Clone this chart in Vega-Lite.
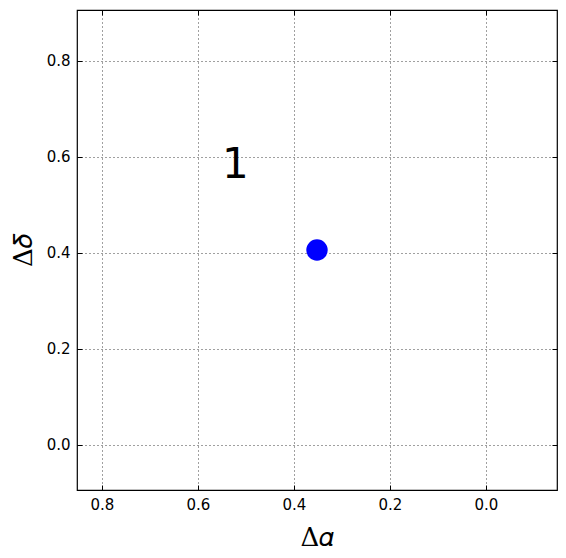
{
  "$schema": "https://vega.github.io/schema/vega-lite/v6.json",
  "width": 480,
  "height": 480,
  "autosize": "none",
  "padding": {"left": 77, "top": 10, "right": 9, "bottom": 68},
  "background": "white",
  "config": {
    "view": {"stroke": "black", "strokeWidth": 1.2},
    "axis": {
      "grid": true,
      "gridColor": "black",
      "gridDash": [1, 3],
      "gridWidth": 1,
      "gridOpacity": 0.75,
      "domain": false,
      "tickColor": "black",
      "tickSize": -5,
      "tickWidth": 1,
      "labelFont": "DejaVu Sans",
      "labelFontSize": 15,
      "labelColor": "black",
      "labelPadding": 12,
      "titleFont": "DejaVu Serif",
      "titleFontWeight": "normal",
      "titleFontSize": 26,
      "titleColor": "black"
    }
  },
  "data": {"values": [{"dx": 0.352, "dy": 0.406, "label": "1", "tx": 0.55, "ty": 0.556}]},
  "layer": [
    {
      "mark": {"type": "point", "filled": true, "color": "#0000ff", "size": 460, "opacity": 1, "shape": "circle"},
      "encoding": {
        "x": {"field": "dx", "type": "quantitative", "scale": {"domain": [0.852, -0.148], "nice": false, "zero": false},
              "axis": {"values": [0.8, 0.6, 0.4, 0.2, 0.0], "format": ".1f", "title": "Δ𝛼", "titlePadding": 12}},
        "y": {"field": "dy", "type": "quantitative", "scale": {"domain": [-0.094, 0.906], "nice": false, "zero": false},
              "axis": {"values": [0.0, 0.2, 0.4, 0.6, 0.8], "format": ".1f", "title": "Δ𝛿", "titlePadding": 10}}
      }
    },
    {
      "mark": {"type": "text", "align": "left", "baseline": "alphabetic", "font": "DejaVu Sans", "fontSize": 42, "color": "black"},
      "encoding": {
        "x": {"field": "tx", "type": "quantitative", "axis": {"orient": "top", "values": [0.8, 0.6, 0.4, 0.2, 0.0], "labels": false, "grid": false, "title": null}},
        "y": {"field": "ty", "type": "quantitative", "axis": {"orient": "right", "values": [0.0, 0.2, 0.4, 0.6, 0.8], "labels": false, "grid": false, "title": null}},
        "text": {"field": "label"}
      }
    }
  ],
  "resolve": {"axis": {"x": "independent", "y": "independent"}}
}
